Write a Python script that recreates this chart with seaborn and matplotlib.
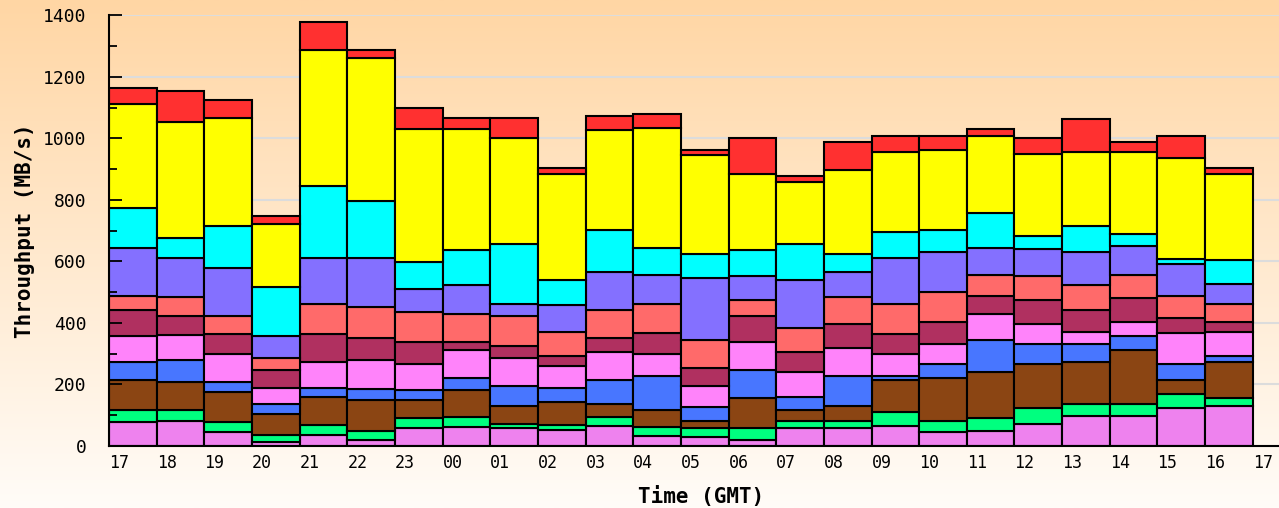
import numpy as np
import pandas as pd
import matplotlib
matplotlib.use("Agg")
import matplotlib.pyplot as plt
from matplotlib.colors import LinearSegmentedColormap
import seaborn as sns

# hours shown along the x axis (one bar per hour, GMT)
hours = ["17", "18", "19", "20", "21", "22", "23", "00", "01", "02", "03", "04",
         "05", "06", "07", "08", "09", "10", "11", "12", "13", "14", "15", "16"]
tick_labels = hours + ["17"]

# throughput per series, MB/s, bottom of the stack first
violet = [79, 82, 44, 12, 37, 20, 57, 63, 57, 52, 64, 31,
          28, 20, 57, 57, 64, 44, 50, 72, 99, 99, 124, 129]
green = [38, 35, 33, 25, 31, 30, 33, 32, 15, 17, 31, 32,
         31, 37, 25, 25, 46, 38, 40, 51, 38, 38, 45, 26]
brown = [98, 92, 100, 67, 92, 100, 60, 87, 57, 73, 42, 54,
         21, 98, 35, 47, 106, 138, 152, 144, 137, 175, 46, 117]
blue = [57, 71, 30, 33, 28, 34, 32, 38, 67, 47, 78, 112,
        46, 92, 43, 98, 11, 47, 103, 65, 58, 47, 52, 22]
pink = [87, 82, 92, 51, 84, 96, 85, 92, 90, 72, 90, 70,
        68, 90, 80, 92, 72, 65, 84, 65, 38, 43, 100, 76]
maroon = [83, 62, 65, 60, 92, 71, 72, 25, 40, 33, 46, 69,
          59, 87, 67, 78, 65, 70, 60, 79, 72, 79, 49, 32]
salmon = [47, 60, 60, 38, 98, 100, 98, 92, 98, 76, 91, 94,
          92, 52, 77, 87, 98, 100, 68, 76, 80, 76, 73, 60]
purple = [155, 128, 155, 73, 149, 160, 74, 93, 38, 89, 123, 95,
          200, 75, 156, 81, 149, 128, 86, 87, 108, 93, 101, 65]
cyan = [130, 65, 137, 157, 234, 184, 87, 116, 195, 81, 138, 86,
        80, 87, 115, 60, 86, 71, 114, 45, 85, 40, 18, 78]
yellow = [337, 376, 351, 206, 441, 466, 431, 393, 345, 345, 325, 392,
          320, 247, 203, 271, 258, 260, 250, 266, 240, 265, 328, 280]
red = [52, 100, 56, 24, 92, 25, 71, 35, 64, 18, 44, 45,
       18, 117, 19, 92, 52, 46, 22, 52, 107, 33, 71, 18]

series = {
    "violet": violet, "green": green, "brown": brown, "blue": blue,
    "pink": pink, "maroon": maroon, "salmon": salmon, "purple": purple,
    "cyan": cyan, "yellow": yellow, "red": red,
}
colors = {
    "violet": "#EE82EE", "green": "#00FF7F", "brown": "#8B4513",
    "blue": "#4876FF", "pink": "#FF83FA", "maroon": "#B03060",
    "salmon": "#FF6A6A", "purple": "#8470FF", "cyan": "#00FFFF",
    "yellow": "#FFFF00", "red": "#FF3030",
}

rows = []
for name, vals in series.items():
    for i, v in enumerate(vals):
        rows.append({"hour": i, "series": name, "mbps": v})
df = pd.DataFrame(rows)

mono = ["DejaVu Sans Mono"]

fig = plt.figure(figsize=(12.79, 5.08), dpi=100)

# peach-to-white gradient behind everything
bg = fig.add_axes([0, 0, 1, 1], zorder=0)
grad = np.linspace(0, 1, 256).reshape(-1, 1)
cmap = LinearSegmentedColormap.from_list("bg", ["#FFD6A4", "#FFFCF8"])
bg.imshow(grad, aspect="auto", cmap=cmap, extent=[0, 1, 0, 1])
bg.axis("off")

ax = fig.add_axes([0.0852, 0.122, 0.9148, 0.848], zorder=1)
ax.set_facecolor("none")

# grid behind the bars, but tick marks stay on top of them
for y in range(200, 1401, 200):
    ax.axhline(y, color="#DCDCDC", linewidth=1.5, zorder=0.5)

# seaborn stacks the last hue level at the bottom, so list top-to-bottom
order = list(series.keys())[::-1]
sns.histplot(data=df, x="hour", weights="mbps", hue="series", hue_order=order,
             palette=colors, multiple="stack", discrete=True, shrink=1,
             element="bars", edgecolor="black", linewidth=1.5, alpha=1,
             legend=False, ax=ax)

ax.set_xlim(-0.5, 24.05)
ax.set_ylim(0, 1400)
ax.set_xticks(np.arange(25) - 0.5)
ax.set_xticklabels(tick_labels, ha="left", family=mono, fontsize=12)
ax.set_yticks(np.arange(0, 1401, 200))
ax.set_yticks(np.arange(100, 1400, 200), minor=True)
ax.set_yticklabels([str(v) for v in range(0, 1401, 200)], family=mono, fontsize=13)
ax.tick_params(axis="x", length=0, pad=6)
ax.tick_params(axis="y", which="major", direction="in", length=9, width=1.3, pad=16)
ax.tick_params(axis="y", which="minor", direction="in", length=6, width=1.3)

ax.grid(False)
ax.set_axisbelow(False)
for side in ["top", "right"]:
    ax.spines[side].set_visible(False)
for side in ["left", "bottom"]:
    ax.spines[side].set_linewidth(1.5)
    ax.spines[side].set_color("black")

ax.set_xlabel("Time (GMT)", family=mono, fontsize=15, fontweight="bold")
ax.set_ylabel("Throughput (MB/s)", family=mono, fontsize=15, fontweight="bold")
ax.xaxis.set_label_coords(0.506, -0.093)
ax.yaxis.set_label_coords(-0.063, 0.5)

fig.savefig("out.png", dpi=100)
